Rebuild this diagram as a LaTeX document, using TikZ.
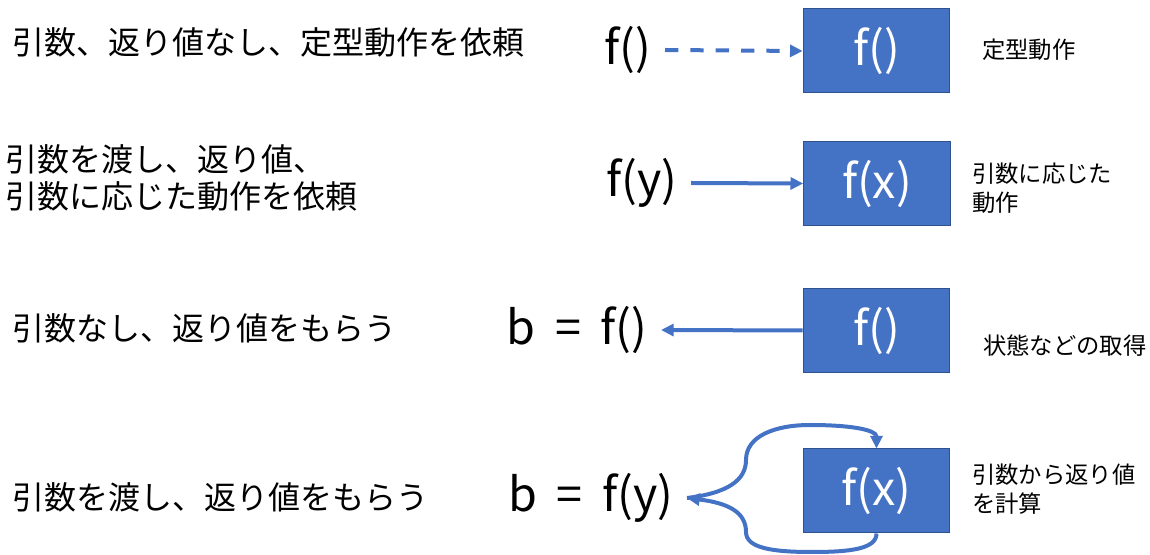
\documentclass[tikz,border=0pt]{standalone}
\usepackage{fontspec}
\setmainfont{Noto Sans CJK JP}
\usetikzlibrary{arrows.meta}
\definecolor{boxblue}{RGB}{68,114,196}
\definecolor{boxedge}{RGB}{47,82,143}
\newcommand{\eqsign}{\hspace{0.42em}=\hspace{0.42em}}

\begin{document}
\begin{tikzpicture}[x=0.75pt, y=-0.75pt,
  funcbox/.style={draw=boxedge, line width=0.75pt, fill=boxblue, text=white,
    minimum width=110pt, minimum height=63pt, font=\fontsize{35}{40}\selectfont},
  calltext/.style={anchor=east, inner xsep=10pt, font=\fontsize{35}{40}\selectfont},
  desc/.style={anchor=west, align=left, inner sep=0pt, font=\fontsize{24}{28}\selectfont},
  note/.style={anchor=west, align=left, inner sep=0pt, font=\fontsize{17.5}{22}\selectfont},
  callarrow/.style={draw=boxblue, line width=3pt, -{Triangle[length=9.5pt,width=9pt]}}]
\useasboundingbox (0,0) rectangle (1150,555);
% Row 1
\node[desc] (d1) at (12,42) {引数、返り値なし、定型動作を依頼};
\node[calltext] (c1) at (665,50) {f()};
\node[funcbox] (f1) at (876.5,51) {f()};
\node[note] (n1) at (982,50) {定型動作};
\draw[callarrow, dash pattern=on 10pt off 9pt] (c1.east) -- (f1.west);
% Row 2
\node[desc] (d2) at (5,178) {引数を渡し、返り値、\\引数に応じた動作を依頼};
\node[calltext] (c2) at (691,183) {f(y)};
\node[funcbox] (f2) at (877,183.5) {f(x)};
\node[note] (n2) at (972,188) {引数に応じた\\動作};
\draw[callarrow] (c2.east) -- (f2.west);
% Row 3
\node[desc] (d3) at (12,328) {引数なし、返り値をもらう};
\node[calltext] (c3) at (661,330) {b\eqsign f()};
\node[funcbox] (f3) at (876.5,330.5) {f()};
\node[note] (n3) at (983,346) {状態などの取得};
\draw[callarrow] (f3.west) -- (c3.east);
% Row 4
\node[desc] (d4) at (12,497) {引数を渡し、返り値をもらう};
\node[calltext] (c4) at (687,498) {b\eqsign f(y)};
\node[funcbox] (f4) at (876.5,491) {f(x)};
\node[note] (n4) at (972,489) {引数から返り値\\を計算};
\coordinate (upturn) at (746,460);
\coordinate (uptop) at (810,425);
\coordinate (lowturn) at (746,532);
\coordinate (lowbot) at (812,552);
\draw[callarrow] (c4.east) .. controls (728,493) and (746,480) .. (upturn)
  .. controls (746,436) and (775,425) .. (uptop)
  .. controls (852,425) and (876.5,430) .. (f4.north);
\draw[callarrow] (f4.south) .. controls (876.5,549) and (850,552) .. (lowbot)
  .. controls (772,552) and (746,548) .. (lowturn)
  .. controls (746,512) and (728,503) .. (c4.east);
\end{tikzpicture}
\end{document}
